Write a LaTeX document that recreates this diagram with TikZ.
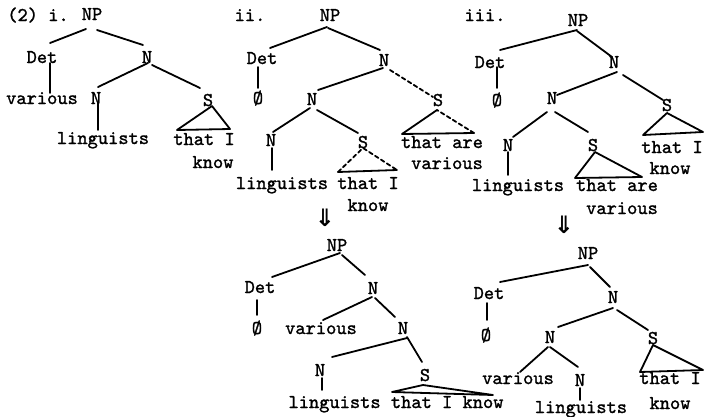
\documentclass[tikz,border=0pt]{standalone}
\usepackage{fontspec}
\newfontfamily\symfont{DejaVu Sans}
\newfontfamily\typewr{lmmono10-regular.otf}[FakeBold=1.3]
\tikzset{
  lbl/.style={font=\fontsize{19.5}{22}\selectfont\typewr, inner sep=0pt, anchor=base},
  edge/.style={line width=1.8pt, line cap=round, line join=round},
  dedge/.style={edge, dash pattern=on 4pt off 3pt},
  derive/.style={font=\fontsize{24}{26}\selectfont\symfont\bfseries, inner sep=0pt}
}
% branch: node, offset from its base, node, offset from its base
\newcommand\tbr[5][edge]{\draw[#1] ([shift={(#3)}]#2.base) -- ([shift={(#5)}]#4.base);}
\begin{document}
\begin{tikzpicture}[x=1pt,y=-1pt]
\useasboundingbox (0,0) rectangle (704,416);

% ---------- i.
\node[lbl] (labi) at (38,21) {(2) i.};
\node[lbl] (npi) at (92,20) {NP};
\node[lbl] (deti) at (42,63) {Det};
\node[lbl] (ni) at (147,63) {N};
\node[lbl] (vari) at (42,104) {various};
\node[lbl] (nni) at (96,104) {N};
\node[lbl] (si) at (208,106) {S};
\node[lbl] (lingi) at (103,144) {linguists};
\node[lbl] (thati) at (204,145) {that I};
\node[lbl] (knowi) at (213,168) {know};
\tbr{npi}{-6,9}{deti}{8,-20}
\tbr{npi}{5,10}{ni}{-4,-18}
\tbr{deti}{8,0}{vari}{8,-11}
\tbr{ni}{1,0}{nni}{2,-17}
\tbr{ni}{5,2}{si}{-8,-18}
\tbr{nni}{2,-1}{lingi}{-5,-14}
\draw[edge] ([shift={(4,0)}]si.base) -- ([shift={(-27,-15)}]thati.base)
  -- ([shift={(26,-16)}]thati.base) -- cycle;

% ---------- ii.
\node[lbl] (labii) at (250,21) {ii.};
\node[lbl] (npii) at (330,21) {NP};
\node[lbl] (detii) at (262,64) {Det};
\node[lbl] (nii) at (384,66) {N};
\node[lbl] (oii) at (258,104) {Ø};
\node[lbl] (nmii) at (312,105) {N};
\node[lbl] (srii) at (438,106) {S};
\node[lbl] (nlii) at (271,146) {N};
\node[lbl] (slii) at (363,148) {S};
\node[lbl] (thatareii) at (442,148) {that are};
\node[lbl] (variousii) at (447,169) {various};
\node[lbl] (lingii) at (282,189) {linguists};
\node[lbl] (thatIii) at (368,189) {that I};
\node[lbl] (knowii) at (368,211) {know};
\tbr{npii}{-3,6}{detii}{8,-16}
\tbr{npii}{-2,7}{nii}{-4,-16}
\tbr{detii}{-4,3}{oii}{0,-16}
\tbr{nii}{-1,2}{nmii}{6,-15}
\tbr[dedge]{nii}{6,4}{srii}{-5,-9}
\tbr{nmii}{-2,3}{nlii}{2,-14}
\tbr{nmii}{5,5}{slii}{-5,-15}
\tbr{nlii}{1,2}{lingii}{-10,-19}
\draw[edge] ([shift={(-1,4)}]srii.base) -- ([shift={(-40,-14)}]thatareii.base)
  -- ([shift={(32,-15)}]thatareii.base);
\draw[dedge] ([shift={(32,-15)}]thatareii.base) -- ([shift={(-1,4)}]srii.base);
\draw[dedge] ([shift={(-30,-17)}]thatIii.base) -- (slii.base)
  -- ([shift={(29,-19)}]thatIii.base);
\draw[edge] ([shift={(-30,-17)}]thatIii.base) -- ([shift={(29,-19)}]thatIii.base);

% ---------- iii.
\node[lbl] (labiii) at (485,21) {iii.};
\node[lbl] (npiii) at (578,26) {NP};
\node[lbl] (detiii) at (490,68) {Det};
\node[lbl] (niii) at (614,68) {N};
\node[lbl] (oiii) at (497,106) {Ø};
\node[lbl] (nmiii) at (552,104) {N};
\node[lbl] (sriii) at (667,111) {S};
\node[lbl] (nliii) at (508,151) {N};
\node[lbl] (sliii) at (593,151) {S};
\node[lbl] (thatIiii) at (672,153) {that I};
\node[lbl] (knowiii) at (670,174) {know};
\node[lbl] (lingiii) at (518,191) {linguists};
\node[lbl] (thatareiii) at (617,191) {that are};
\node[lbl] (variousiii) at (622,214) {various};
\tbr{npiii}{-1,4}{detiii}{10,-18}
\tbr{npiii}{-1,5}{niii}{-2,-11}
\tbr{detiii}{7,-1}{oiii}{0,-18}
\tbr{niii}{3,4}{nmiii}{5,-9}
\tbr{niii}{9,7}{sriii}{-4,-11}
\tbr{nmiii}{-5,8}{nliii}{5,-14}
\tbr{nmiii}{3,8}{sliii}{-5,-19}
\tbr{nliii}{0,1}{lingiii}{-10,-16}
\draw[edge] ([shift={(2,1)}]sliii.base) -- ([shift={(-42,-13)}]thatareiii.base)
  -- ([shift={(25,-14)}]thatareiii.base) -- cycle;
\draw[edge] ([shift={(0,2)}]sriii.base) -- ([shift={(-29,-18)}]thatIiii.base)
  -- ([shift={(31,-21)}]thatIiii.base) -- cycle;

% ---------- derivation arrows
\node[derive] (arrl) at (325,218) {⇓};
\node[derive] (arrr) at (564,225) {⇓};

% ---------- lower left
\node[lbl] (npiv) at (337,251) {NP};
\node[lbl] (detiv) at (260,293) {Det};
\node[lbl] (niv) at (373,294) {N};
\node[lbl] (oiv) at (257,334) {Ø};
\node[lbl] (variv) at (321,334) {various};
\node[lbl] (nmiv) at (403,334) {N};
\node[lbl] (nliv) at (320,376) {N};
\node[lbl] (siv) at (425,381) {S};
\node[lbl] (lingiv) at (396,408) {linguists that I know};
\tbr{npiv}{3,2}{detiv}{12,-16}
\tbr{npiv}{5,4}{niv}{-8,-19}
\tbr{detiv}{-3,7}{oiv}{0,-19}
\tbr{niv}{-1,3}{variv}{2,-14}
\tbr{niv}{2,4}{nmiv}{-8,-17}
\tbr{nmiv}{4,4}{nliv}{12,-19}
\tbr{nmiv}{4,3}{siv}{-3,-19}
\tbr{nliv}{2,2}{lingiv}{-74,-18}
\draw[edge] ([shift={(-2,4)}]siv.base) -- ([shift={(-4,-16)}]lingiv.base)
  -- ([shift={(97,-13)}]lingiv.base) -- cycle;

% ---------- lower right
\node[lbl] (npv) at (588,259) {NP};
\node[lbl] (detv) at (489,299) {Det};
\node[lbl] (nv) at (613,303) {N};
\node[lbl] (ov) at (486,341) {Ø};
\node[lbl] (nmv) at (550,343) {N};
\node[lbl] (sv) at (653,344) {S};
\node[lbl] (varv) at (518,384) {various};
\node[lbl] (nlv) at (580,386) {N};
\node[lbl] (thatIv) at (670,384) {that I};
\node[lbl] (knowv) at (670,409) {know};
\node[lbl] (lingv) at (581,413) {linguists};
\tbr{npv}{0,6}{detv}{11,-17}
\tbr{npv}{2,8}{nv}{-3,-16}
\tbr{detv}{-2,4}{ov}{1,-21}
\tbr{nv}{0,5}{nmv}{8,-16}
\tbr{nv}{4,7}{sv}{-5,-14}
\tbr{nmv}{-2,4}{varv}{2,-12}
\tbr{nmv}{0,4}{nlv}{-2,-19}
\tbr{nlv}{0,2}{lingv}{-1,-13}
\draw[edge] ([shift={(0,1)}]sv.base) -- ([shift={(-30,-12)}]thatIv.base)
  -- ([shift={(33,-14)}]thatIv.base) -- cycle;
\end{tikzpicture}
\end{document}
